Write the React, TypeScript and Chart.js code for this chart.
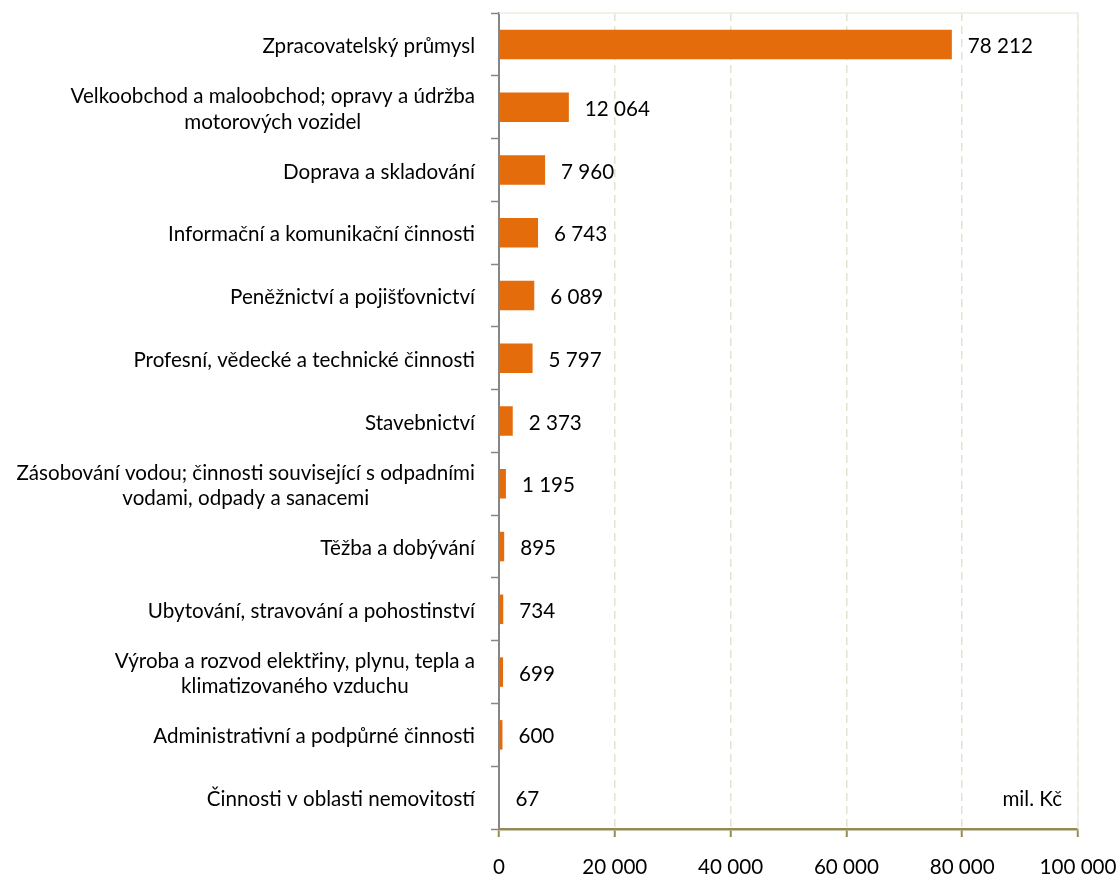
import React, { useEffect, useRef } from "react";
import { Chart, registerables } from "chart.js";

Chart.register(...registerables);

const categories: string[][] = [
  ["Zpracovatelský průmysl"],
  ["Velkoobchod a maloobchod; opravy a údržba", "motorových vozidel"],
  ["Doprava a skladování"],
  ["Informační a komunikační činnosti"],
  ["Peněžnictví a pojišťovnictví"],
  ["Profesní, vědecké a technické činnosti"],
  ["Stavebnictví"],
  ["Zásobování vodou; činnosti související s odpadními", "vodami, odpady a sanacemi"],
  ["Těžba a dobývání"],
  ["Ubytování, stravování a pohostinství"],
  ["Výroba a rozvod elektřiny, plynu, tepla a", "klimatizovaného vzduchu"],
  ["Administrativní a podpůrné činnosti"],
  ["Činnosti v oblasti nemovitostí"],
];

const values: number[] = [78212, 12064, 7960, 6743, 6089, 5797, 2373, 1195, 895, 734, 699, 600, 67];

const xTicks: number[] = [0, 20000, 40000, 60000, 80000, 100000];
const unitLabel = "mil. Kč";

const FONT = "Lato, 'Open Sans', sans-serif";
const FONT_SIZE = 20.6;
const LINE_GAP = 25.5;
const TEXT_SHIFT = 2;

const fmt = (v: number) => String(Math.round(v)).replace(/\B(?=(\d{3})+(?!\d))/g, " ");

const extrasPlugin = {
  id: "extras",
  beforeDatasetsDraw(chart: any) {
    const { ctx, chartArea } = chart;
    ctx.save();
    ctx.strokeStyle = "#EEECE1";
    ctx.lineWidth = 1.5;
    ctx.beginPath();
    ctx.moveTo(chartArea.left, chartArea.top);
    ctx.lineTo(chartArea.right, chartArea.top);
    ctx.lineTo(chartArea.right, chartArea.bottom);
    ctx.stroke();
    ctx.restore();
  },
  afterDatasetsDraw(chart: any) {
    const { ctx, chartArea } = chart;
    const meta = chart.getDatasetMeta(0);
    const yScale = chart.scales.y;
    ctx.save();
    ctx.font = `${FONT_SIZE}px ${FONT}`;
    ctx.fillStyle = "#000000";
    ctx.textBaseline = "middle";
    // data labels
    ctx.textAlign = "left";
    meta.data.forEach((bar: any, i: number) => {
      ctx.fillText(fmt(values[i]), bar.x + 16, bar.y + TEXT_SHIFT);
    });
    // unit label
    ctx.textAlign = "right";
    const last = meta.data[meta.data.length - 1];
    ctx.fillText(unitLabel, chartArea.right - 16, last.y + TEXT_SHIFT);
    // category labels: block right-aligned, lines centered within block
    ctx.textAlign = "center";
    const rightEdge = chartArea.left - 24;
    categories.forEach((lines, i) => {
      const yc = yScale.getPixelForValue(i) + TEXT_SHIFT;
      const maxW = Math.max(...lines.map((l) => ctx.measureText(l).width));
      const cx = rightEdge - maxW / 2;
      const y0 = yc - ((lines.length - 1) * LINE_GAP) / 2;
      lines.forEach((l, j) => ctx.fillText(l, cx, y0 + j * LINE_GAP));
    });
    ctx.restore();
  },
};

export default function App() {
  const ref = useRef<HTMLCanvasElement | null>(null);

  useEffect(() => {
    document.body.style.margin = "0";
    const canvas = ref.current;
    if (!canvas) return;
    const chart = new Chart(canvas, {
      type: "bar",
      data: {
        labels: categories.map((c) => c.join(" ")),
        datasets: [
          {
            data: values,
            backgroundColor: "#E46C0A",
            borderWidth: 0,
            barPercentage: 0.47,
            categoryPercentage: 1,
          },
        ],
      },
      options: {
        indexAxis: "y",
        animation: false,
        responsive: false,
        maintainAspectRatio: false,
        layout: { padding: { top: 13, right: 41, left: 0, bottom: 0 } },
        plugins: {
          legend: { display: false },
          tooltip: { enabled: false },
        },
        scales: {
          x: {
            type: "linear",
            min: 0,
            max: 100000,
            afterBuildTicks(scale: any) {
              scale.ticks = xTicks.map((v) => ({ value: v }));
            },
            afterFit(scale: any) {
              scale.height = 48;
              scale.paddingLeft = 0;
              scale.paddingRight = 0;
            },
            grid: {
              color: "#E6E2D0",
              lineWidth: 1.5,
              tickColor: "#948A54",
              tickLength: 8,
              tickWidth: 2,
            },
            border: { color: "#948A54", width: 2.5, dash: [8, 5] },
            ticks: {
              color: "#000000",
              padding: 18,
              maxRotation: 0,
              font: { family: FONT, size: FONT_SIZE },
              callback: (v: any) => fmt(Number(v)),
            },
          },
          y: {
            type: "category",
            afterFit(scale: any) {
              scale.width = 499;
              scale.paddingTop = 0;
              scale.paddingBottom = 0;
            },
            grid: {
              offset: true,
              drawOnChartArea: false,
              color: "#868686",
              tickColor: "#868686",
              tickLength: 8,
              tickWidth: 1.5,
            },
            border: { color: "#868686", width: 2 },
            ticks: {
              display: false,
              autoSkip: false,
            },
          },
        },
      },
      plugins: [extrasPlugin],
    });
    return () => chart.destroy();
  }, []);

  return (
    <div style={{ width: 1119, height: 877, position: "relative" }}>
      <canvas ref={ref} width={1119} height={877} style={{ display: "block" }} />
    </div>
  );
}
